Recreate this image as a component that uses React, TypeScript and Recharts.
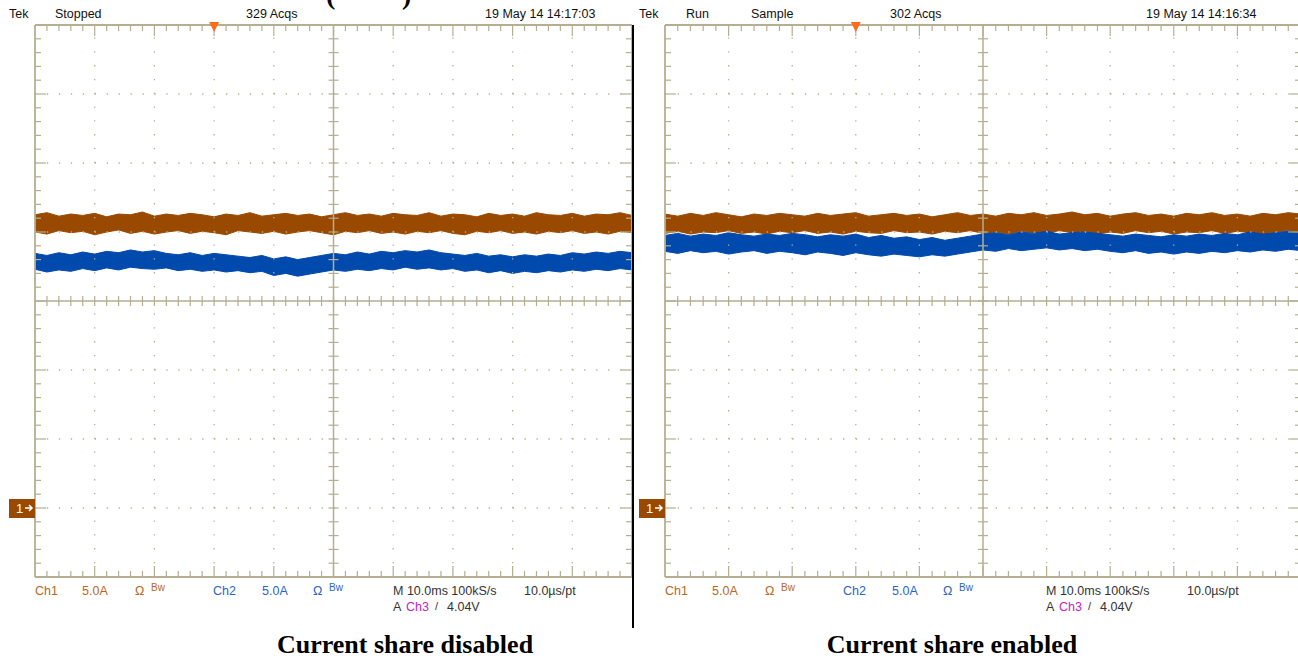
import { ComposedChart, Area, XAxis, YAxis, ReferenceLine, ReferenceDot } from 'recharts'

// time axis, ms (10 ms/div)
const timeMs = [
  0, 2, 4, 6, 8, 10, 12, 14, 16, 18, 20, 22, 24, 26, 28, 30, 32, 34, 36, 38, 40, 42, 44, 46, 48, 50,
  52, 54, 56, 58, 60, 62, 64, 66, 68, 70, 72, 74, 76, 78, 80, 82, 84, 86, 88, 90, 92, 94, 96, 98, 100,
]

// trace envelopes in screen divisions (0 = centre line)
const disabledCh1Hi = [
  1.25, 1.28, 1.23, 1.26, 1.24, 1.27, 1.22, 1.26, 1.25, 1.29, 1.23, 1.26, 1.24, 1.27, 1.25, 1.22, 1.26,
  1.24, 1.28, 1.23, 1.25, 1.27, 1.24, 1.26, 1.22, 1.25, 1.28, 1.24, 1.26, 1.23, 1.27, 1.25, 1.24, 1.28,
  1.23, 1.26, 1.25, 1.22, 1.27, 1.24, 1.26, 1.23, 1.28, 1.25, 1.24, 1.27, 1.23, 1.26, 1.25, 1.28, 1.24,
]
const disabledCh1Lo = [
  1.0, 0.97, 1.02, 0.99, 1.01, 0.96, 1.0, 1.03, 0.98, 1.01, 0.97, 1.0, 1.02, 0.98, 1.01, 0.99, 0.96,
  1.02, 1.0, 0.98, 1.01, 0.97, 1.0, 1.02, 0.99, 0.96, 1.01, 0.99, 1.02, 0.98, 1.0, 0.97, 1.01, 0.99,
  1.02, 0.98, 0.96, 1.01, 0.99, 1.02, 0.98, 1.0, 0.97, 1.01, 0.99, 1.02, 0.98, 1.0, 0.97, 1.01, 0.99,
]
const disabledCh2Hi = [
  0.69, 0.66, 0.7, 0.67, 0.71, 0.68, 0.72, 0.7, 0.74, 0.71, 0.73, 0.69, 0.67, 0.7, 0.66, 0.69, 0.67,
  0.65, 0.63, 0.66, 0.61, 0.64, 0.6, 0.63, 0.66, 0.69, 0.67, 0.71, 0.68, 0.72, 0.7, 0.73, 0.71, 0.74,
  0.7, 0.68, 0.66, 0.69, 0.65, 0.67, 0.64, 0.67, 0.65, 0.68, 0.66, 0.7, 0.68, 0.71, 0.69, 0.72, 0.7,
]
const disabledCh2Lo = [
  0.46, 0.42, 0.45, 0.43, 0.47, 0.44, 0.48, 0.45, 0.49, 0.47, 0.46, 0.48, 0.44, 0.46, 0.43, 0.45, 0.42,
  0.44, 0.41, 0.43, 0.37, 0.4, 0.36, 0.39, 0.42, 0.45, 0.43, 0.46, 0.44, 0.47, 0.45, 0.49, 0.46, 0.48,
  0.45, 0.47, 0.43, 0.45, 0.41, 0.44, 0.4, 0.43, 0.41, 0.44, 0.42, 0.45, 0.43, 0.46, 0.44, 0.47, 0.45,
]
const enabledCh1Hi = [
  1.26, 1.23, 1.27, 1.24, 1.28, 1.25, 1.22, 1.26, 1.24, 1.27, 1.25, 1.23, 1.27, 1.24, 1.26, 1.28, 1.23,
  1.25, 1.27, 1.24, 1.26, 1.22, 1.25, 1.28, 1.24, 1.26, 1.23, 1.27, 1.25, 1.28, 1.24, 1.26, 1.29, 1.25,
  1.27, 1.23, 1.26, 1.28, 1.24, 1.26, 1.23, 1.27, 1.25, 1.28, 1.24, 1.26, 1.23, 1.27, 1.25, 1.28, 1.26,
]
const enabledCh1Lo = [
  0.98, 1.01, 0.97, 1.0, 0.99, 1.02, 0.98, 1.0, 0.97, 1.01, 0.99, 1.02, 0.98, 1.0, 0.97, 1.01, 0.99,
  0.98, 1.02, 0.99, 1.0, 0.97, 1.01, 0.99, 1.02, 0.98, 1.0, 0.97, 1.01, 0.99, 0.98, 1.02, 0.99, 1.01,
  0.97, 1.0, 0.98, 1.02, 0.99, 1.01, 0.97, 1.0, 0.99, 1.02, 0.98, 1.01, 0.99, 0.97, 1.0, 1.02, 0.99,
]
const enabledCh2Hi = [
  0.95, 0.98, 0.94, 0.97, 0.95, 0.99, 0.96, 0.94, 0.97, 0.95, 0.98, 0.96, 0.93, 0.96, 0.94, 0.97, 0.92,
  0.95, 0.91, 0.93, 0.89, 0.92, 0.88, 0.91, 0.94, 0.97, 0.99, 0.96, 1.0, 0.98, 1.01, 0.97, 0.99, 1.0,
  0.98, 0.96, 0.94, 0.97, 0.95, 0.93, 0.96, 0.94, 0.97, 0.95, 0.98, 0.96, 1.0, 0.97, 0.99, 1.01, 0.98,
]
const enabledCh2Lo = [
  0.72, 0.69, 0.73, 0.7, 0.72, 0.68, 0.71, 0.73, 0.69, 0.72, 0.7, 0.67, 0.71, 0.69, 0.66, 0.7, 0.67,
  0.65, 0.68, 0.66, 0.64, 0.67, 0.65, 0.68, 0.71, 0.74, 0.72, 0.76, 0.73, 0.75, 0.77, 0.74, 0.76, 0.73,
  0.75, 0.72, 0.7, 0.73, 0.69, 0.71, 0.68, 0.71, 0.69, 0.72, 0.7, 0.73, 0.71, 0.74, 0.72, 0.75, 0.73,
]

const gridX = [10, 20, 30, 40, 60, 70, 80, 90]
const gridY = [-3, -2, -1, 1, 2, 3]
const triggerMs = 30
const ch1Ground = -3

const GRID = '#b5ae90'
const CH1 = '#9a4a00'
const CH2 = '#0049ad'
const TXT1 = '#b8681e'
const TXT2 = '#2a64c8'
const MAG = '#c21fc2'
const FONT = "'Liberation Sans', Arial, sans-serif"
const SERIF = "'Liberation Serif', 'Times New Roman', serif"

const rows = (h1: number[], l1: number[], h2: number[], l2: number[]) =>
  timeMs.map((t, i) => ({ t, ch1: [l1[i], h1[i]], ch2: [l2[i], h2[i]] }))

const edge = (side: 'top' | 'bottom' | 'left' | 'right') => (p: any) => {
  const { x1, y1, x2, y2 } = p
  const horiz = side === 'top' || side === 'bottom'
  const n = horiz ? 50 : 40
  const s = side === 'top' || side === 'left' ? 1 : -1
  const ticks = []
  for (let i = 1; i < n; i++) {
    const len = i % 5 === 0 ? 11 : 6
    if (horiz) {
      const x = x1 + ((x2 - x1) * i) / n
      ticks.push(<line key={i} x1={x} x2={x} y1={y1} y2={y1 + s * len} />)
    } else {
      const y = y1 + ((y2 - y1) * i) / n
      ticks.push(<line key={i} x1={x1} x2={x1 + s * len} y1={y} y2={y} />)
    }
  }
  return (
    <g stroke={GRID} strokeWidth={1.2}>
      <line x1={x1} y1={y1} x2={x2} y2={y2} strokeWidth={1.8} />
      {ticks}
    </g>
  )
}

const cross = (horiz: boolean) => (p: any) => {
  const { x1, y1, x2, y2 } = p
  const n = horiz ? 50 : 40
  const ticks = []
  for (let i = 1; i < n; i++) {
    if (horiz) {
      const x = x1 + ((x2 - x1) * i) / n
      ticks.push(<line key={i} x1={x} x2={x} y1={y1 - 5} y2={y1 + 5} />)
    } else {
      const y = y1 + ((y2 - y1) * i) / n
      ticks.push(<line key={i} x1={x1 - 5} x2={x1 + 5} y1={y} y2={y} />)
    }
  }
  return (
    <g stroke={GRID} strokeWidth={1.2}>
      <line x1={x1} y1={y1} x2={x2} y2={y2} strokeWidth={1.5} />
      {ticks}
    </g>
  )
}

const Trigger = (p: any) => (
  <path d={`M${p.cx - 5},${p.cy - 3} L${p.cx + 5},${p.cy - 3} L${p.cx},${p.cy + 7} Z`} fill="#ff6a1a" />
)

const GroundMark = (p: any) => (
  <g>
    <rect x={p.cx - 26} y={p.cy - 9} width={26} height={19} fill={CH1} />
    <text x={p.cx - 19} y={p.cy + 5} fill="#fff" fontSize={13} fontFamily={FONT}>1</text>
    <path d={`M${p.cx - 10},${p.cy} L${p.cx - 3},${p.cy} M${p.cx - 6},${p.cy - 3} L${p.cx - 3},${p.cy} L${p.cx - 6},${p.cy + 3}`} stroke="#fff" strokeWidth={1.5} fill="none" />
  </g>
)

interface PanelProps {
  data: ReturnType<typeof rows>
  left: number
  plotW: number
}

function Scope({ data, left, plotW }: PanelProps) {
  const plotH = 552
  const dx = plotW / 50
  const dy = plotH / 40
  return (
    <div style={{ position: 'absolute', left, top: 0 }}>
      <ComposedChart width={35 + plotW + 6} height={600} data={data} margin={{ top: 25, right: 6, bottom: 23, left: 35 }}>
        <XAxis dataKey="t" type="number" domain={[0, 100]} hide allowDataOverflow />
        <YAxis type="number" domain={[-4, 4]} hide allowDataOverflow />
        {gridY.map((v) => (
          <ReferenceLine key={'h' + v} y={v} stroke={GRID} strokeWidth={1.3} strokeDasharray={`1.3 ${dx - 1.3}`} />
        ))}
        {gridX.map((v) => (
          <ReferenceLine key={'v' + v} x={v} stroke={GRID} strokeWidth={1.3} strokeDasharray={`1.3 ${dy - 1.3}`} />
        ))}
        <ReferenceLine y={0} shape={cross(true)} />
        <ReferenceLine x={50} shape={cross(false)} />
        <Area type="linear" dataKey="ch1" stroke={CH1} fill={CH1} fillOpacity={1} strokeWidth={1} dot={false} activeDot={false} isAnimationActive={false} />
        <Area type="linear" dataKey="ch2" stroke={CH2} fill={CH2} fillOpacity={1} strokeWidth={1} dot={false} activeDot={false} isAnimationActive={false} />
        <ReferenceLine y={4} shape={edge('top')} />
        <ReferenceLine y={-4} shape={edge('bottom')} />
        <ReferenceLine x={0} shape={edge('left')} />
        <ReferenceLine x={100} shape={edge('right')} />
        <ReferenceDot x={triggerMs} y={4} r={5} shape={Trigger} />
        <ReferenceDot x={0} y={ch1Ground} r={5} shape={GroundMark} />
      </ComposedChart>
    </div>
  )
}

const T = (x: number, y: number, s: string, color = '#111', size = 12.5) => (
  <span key={x + s} style={{ position: 'absolute', left: x, top: y, color, fontSize: size, lineHeight: `${size}px`, fontFamily: FONT, whiteSpace: 'nowrap' }}>{s}</span>
)

interface LabelProps {
  dx: number
  status: [string, number][]
  acqs: [string, number]
  date: [string, number]
  mx: number
}

// panel readouts; dx shifts the channel block, mx the timebase block
function Labels({ dx, status, acqs, date, mx }: LabelProps) {
  return (
    <>
      {T(9 + dx, 8, 'Tek')}
      {status.map(([s, x]) => T(x, 8, s))}
      {T(acqs[1], 8, acqs[0])}
      {T(date[1], 8, date[0])}
      {T(35 + dx, 585, 'Ch1', TXT1)}
      {T(82 + dx, 585, '5.0A', TXT1)}
      {T(135 + dx, 585, 'Ω', TXT1)}
      {T(151 + dx, 583, 'Bw', TXT1, 10)}
      {T(213 + dx, 585, 'Ch2', TXT2)}
      {T(262 + dx, 585, '5.0A', TXT2)}
      {T(313 + dx, 585, 'Ω', TXT2)}
      {T(329 + dx, 583, 'Bw', TXT2, 10)}
      {T(393 + mx, 585, 'M 10.0ms 100kS/s', '#333')}
      {T(524 + mx + (mx ? 10 : 0), 585, '10.0µs/pt', '#333')}
      {T(393 + mx, 601, 'A', '#333')}
      {T(406 + mx, 601, 'Ch3', MAG)}
      {T(435 + mx, 601, '/', '#333', 11)}
      {T(447 + mx, 601, '4.04V', '#333')}
    </>
  )
}

export default function App() {
  return (
    <div style={{ position: 'absolute', left: 0, top: 0, width: 1298, height: 663, overflow: 'hidden', background: '#fff' }}>
      <span style={{ position: 'absolute', left: 326, top: -19, fontFamily: SERIF, fontWeight: 'bold', fontSize: 28, lineHeight: '28px' }}>(</span>
      <span style={{ position: 'absolute', left: 402, top: -19, fontFamily: SERIF, fontWeight: 'bold', fontSize: 28, lineHeight: '28px' }}>)</span>
      <Scope data={rows(disabledCh1Hi, disabledCh1Lo, disabledCh2Hi, disabledCh2Lo)} left={0} plotW={597} />
      <Scope data={rows(enabledCh1Hi, enabledCh1Lo, enabledCh2Hi, enabledCh2Lo)} left={630} plotW={636} />
      <div style={{ position: 'absolute', left: 632, top: 25, width: 1.5, height: 603, background: '#000' }} />
      <Labels dx={0} mx={0} status={[['Stopped', 55]]} acqs={['329 Acqs', 246]} date={['19 May 14 14:17:03', 485]} />
      <Labels dx={630} mx={653} status={[['Run', 686], ['Sample', 751]]} acqs={['302 Acqs', 890]} date={['19 May 14 14:16:34', 1146]} />
      <div style={{ position: 'absolute', left: 155, top: 632, width: 500, textAlign: 'center', fontFamily: SERIF, fontWeight: 'bold', fontSize: 26, lineHeight: '26px' }}>Current share disabled</div>
      <div style={{ position: 'absolute', left: 702, top: 632, width: 500, textAlign: 'center', fontFamily: SERIF, fontWeight: 'bold', fontSize: 26, lineHeight: '26px' }}>Current share enabled</div>
    </div>
  )
}
